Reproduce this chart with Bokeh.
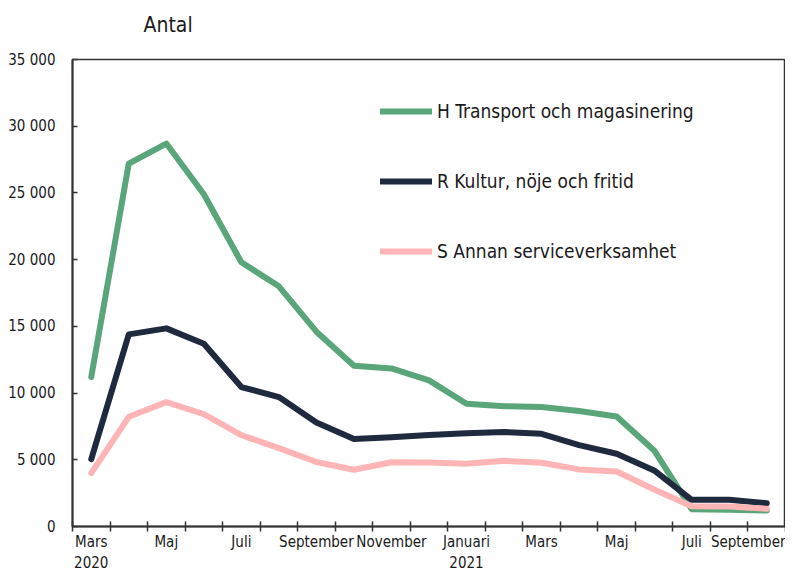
from bokeh.plotting import figure
from bokeh.models import Range1d, FixedTicker, Legend, LegendItem, Title
from bokeh.embed import file_html
from bokeh.resources import INLINE

# ---- data ----
months = ["Mars 2020", "April", "Maj", "Juni", "Juli", "Augusti", "September",
          "Oktober", "November", "December", "Januari 2021", "Februari", "Mars",
          "April", "Maj", "Juni", "Juli", "Augusti", "September"]
x_tick_labels = ["Mars\n2020", "Maj", "Juli", "September", "November",
                 "Januari\n2021", "Mars", "Maj", "Juli", "September"]
x_tick_months = [0, 2, 4, 6, 8, 10, 12, 14, 16, 18]

h_transport = [11200, 27200, 28700, 24900, 19800, 18000, 14600, 12050, 11850,
               10950, 9200, 9020, 8950, 8650, 8250, 5700, 1300, 1250, 1200]
r_kultur = [5050, 14400, 14850, 13700, 10450, 9700, 7800, 6550, 6680,
            6850, 6980, 7080, 6950, 6100, 5450, 4200, 2000, 2000, 1750]
s_annan = [4000, 8220, 9320, 8420, 6850, 5870, 4830, 4250, 4820,
           4790, 4700, 4930, 4780, 4280, 4120, 2770, 1520, 1500, 1330]

series_names = ["H Transport och magasinering", "R Kultur, nöje och fritid",
                "S Annan serviceverksamhet"]
series_colors = ["#5BA57B", "#1F2A3F", "#FFB5B5"]

y_ticks = [0, 5000, 10000, 15000, 20000, 25000, 30000, 35000]
y_tick_labels = ["0", "5 000", "10 000", "15 000", "20 000", "25 000", "30 000", "35 000"]

FONT = "'DejaVu Sans Condensed', 'DejaVu Sans', sans-serif"
TXT = "#1a1a1a"

xs = [i + 0.5 for i in range(len(months))]

p = figure(width=785, height=576, output_backend="svg", toolbar_location=None,
           x_range=Range1d(0, len(months)), y_range=Range1d(0, 35000),
           min_border_left=72, min_border_right=0, min_border_bottom=50,
           min_border_top=59)

p.title.text = "Antal"
p.title.align = "left"
p.title.offset = 71
p.title.vertical_align = "top"
p.title.standoff = 20
p.title.text_font = FONT
p.title.text_font_size = "21px"
p.title.text_font_style = "normal"
p.title.text_color = TXT

# small empty spacer between the title and the frame
p.add_layout(Title(text=" ", text_font_size="8px", standoff=0), "above")

p.xgrid.grid_line_color = None
p.ygrid.grid_line_color = None
p.outline_line_color = "#333333"
p.outline_line_width = 1.5
p.background_fill_color = "white"
p.border_fill_color = "white"

# x axis: labels at category centres, ticks on category boundaries (minor ticks)
p.xaxis.ticker = FixedTicker(ticks=[xs[i] for i in x_tick_months],
                             minor_ticks=list(range(len(months) + 1)))
p.xaxis.major_label_overrides = {xs[i]: lab for i, lab in zip(x_tick_months, x_tick_labels)}
p.xaxis.major_tick_line_color = None
p.xaxis.major_tick_out = 0
p.xaxis.major_tick_in = 0
p.xaxis.minor_tick_line_color = "#333333"
p.xaxis.minor_tick_line_width = 1.5
p.xaxis.minor_tick_in = 5
p.xaxis.minor_tick_out = 5
p.xaxis.axis_line_color = "#333333"
p.xaxis.axis_line_width = 2
p.xaxis.major_label_text_font = FONT
p.xaxis.major_label_text_font_size = "15px"
p.xaxis.major_label_text_line_height = 1.2
p.xaxis.major_label_text_color = TXT
p.xaxis.major_label_standoff = 1

p.yaxis.ticker = FixedTicker(ticks=y_ticks, minor_ticks=[])
p.yaxis.major_label_overrides = {t: l for t, l in zip(y_ticks, y_tick_labels)}
p.yaxis.major_tick_in = 5
p.yaxis.major_tick_out = 0
p.yaxis.major_tick_line_color = "#333333"
p.yaxis.major_tick_line_width = 1.5
p.yaxis.axis_line_color = "#333333"
p.yaxis.axis_line_width = 2
p.yaxis.major_label_text_font = FONT
p.yaxis.major_label_text_font_size = "15px"
p.yaxis.major_label_text_color = TXT
p.yaxis.major_label_standoff = 17

renderers = []
for ys, col in zip([h_transport, r_kultur, s_annan], series_colors):
    r = p.line(xs, ys, line_color=col, line_width=6, line_join="round", line_cap="round")
    renderers.append(r)

legend = Legend(items=[LegendItem(label=n, renderers=[r]) for n, r in zip(series_names, renderers)],
                location=(308, 262), padding=0, margin=0, border_line_color=None,
                background_fill_alpha=0, glyph_width=52, glyph_height=26,
                label_height=26, label_standoff=5, spacing=44,
                label_text_font=FONT, label_text_font_size="19px", label_text_color=TXT)
p.add_layout(legend)

open("out.html", "w").write(file_html(p, INLINE))
